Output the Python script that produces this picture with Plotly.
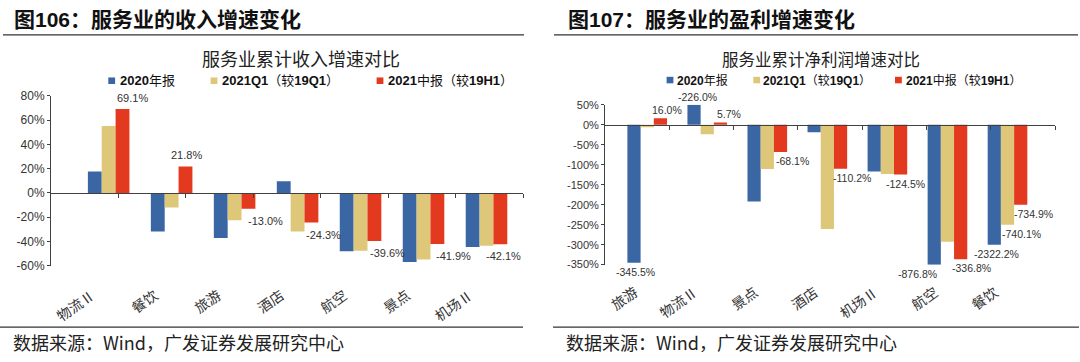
import plotly.graph_objects as go

W, H = 1080, 362

# ---------------- data ----------------
left_categories = ["物流Ⅱ", "餐饮", "旅游", "酒店", "航空", "景点", "机场Ⅱ"]
left_2020 = [17.7, -31.7, -37.0, 9.7, -48.0, -56.8, -44.4]
left_2021q1 = [55.0, -11.9, -22.5, -31.7, -47.5, -54.7, -43.4]
left_2021h1 = [69.1, 21.8, -13.0, -24.3, -39.6, -41.9, -42.1]
left_h1_labels = ["69.1%", "21.8%", "-13.0%", "-24.3%", "-39.6%", "-41.9%", "-42.1%"]

right_categories = ["旅游", "物流Ⅱ", "景点", "酒店", "机场Ⅱ", "航空", "餐饮"]
right_2020 = [-345.5, 50.0, -192.0, -19.0, -117.0, -350.0, -300.0]
right_2021q1 = [-6.0, -24.0, -111.0, -261.0, -123.0, -293.0, -250.0]
right_2021h1 = [16.0, 5.7, -68.1, -110.2, -124.5, -336.8, -200.0]
right_2020_labels = ["-345.5%", "-226.0%", "", "", "", "-876.8%", "-2322.2%"]
right_q1_labels = ["", "", "", "", "", "", "-740.1%"]
right_h1_labels = ["16.0%", "5.7%", "-68.1%", "-110.2%", "-124.5%", "-336.8%", "-734.9%"]

series_names = ["2020年报", "2021Q1（较19Q1）", "2021中报（较19H1）"]
legend_html = ["<b>2020</b>年报", "<b>2021Q1</b>（较<b>19Q1</b>）", "<b>2021</b>中报（较<b>19H1</b>）"]

left_ticks = [-60, -40, -20, 0, 20, 40, 60, 80]
left_ticktext = ["-60%", "-40%", "-20%", "0%", "20%", "40%", "60%", "80%"]
right_ticks = [-350, -300, -250, -200, -150, -100, -50, 0, 50]
right_ticktext = ["-350%", "-300%", "-250%", "-200%", "-150%", "-100%", "-50%", "0%", "50%"]

# ---------------- style ----------------
BLUE, YELLOW, RED = "#3B66A4", "#DEC779", "#E3391F"
COLORS = [BLUE, YELLOW, RED]
AX = "#404040"
LAT = "Liberation Sans, Arial, Noto Sans CJK SC"
CJK = "Noto Sans CJK SC, Liberation Sans"

# label pixel offsets from category centre (x)
left_label_dx = [24, 15, 31, 26, 27, 30, 17]
right_2020_dx = [-11.5, -9.6, 0, 0, 0, -29.5, -11.2]
right_q1_dx = [0, 0, 0, 0, 0, 0, 13.7]
right_h1_dx = [19.4, 21.7, 24.9, 25.1, 18.5, 24.5, 26]


def px(x):
    return x / W


def py(y):
    return 1 - y / H


L_X = [px(51), px(523)]
L_Y = [py(269.3), py(92.3)]
R_X = [px(605), px(1055)]
R_Y = [py(268.0), py(101.7)]

fig = go.Figure()

for vals, name, col in zip([left_2020, left_2021q1, left_2021h1], series_names, COLORS):
    fig.add_trace(go.Bar(x=left_categories, y=vals, name=name, marker_color=col,
                         marker_line_width=0, xaxis="x", yaxis="y", showlegend=False))
for vals, name, col in zip([right_2020, right_2021q1, right_2021h1], series_names, COLORS):
    fig.add_trace(go.Bar(x=right_categories, y=vals, name=name, marker_color=col,
                         marker_line_width=0, xaxis="x2", yaxis="y2", showlegend=False))
# helper traces for zero-line category axes
fig.add_trace(go.Scatter(x=[None], y=[None], xaxis="x3", yaxis="y", showlegend=False, hoverinfo="skip"))
fig.add_trace(go.Scatter(x=[None], y=[None], xaxis="x4", yaxis="y2", showlegend=False, hoverinfo="skip"))


def zero_pos(dom, rng):
    return dom[0] + (dom[1] - dom[0]) * (0 - rng[0]) / (rng[1] - rng[0])


LR = [-60, 80]
RR = [-350, 50]

yax_common = dict(showline=True, linecolor=AX, linewidth=1, ticks="outside", ticklen=3,
                  tickcolor=AX, showgrid=False, zeroline=False)
xcat_common = dict(type="category", showline=False, ticks="", showgrid=False, zeroline=False,
                   showticklabels=False)
xzero_common = dict(showline=True, linecolor=AX, linewidth=1, ticks="outside", ticklen=4,
                    tickcolor=AX, showticklabels=False, showgrid=False, zeroline=False,
                    range=[-0.5, 6.5], tickvals=[0.5, 1.5, 2.5, 3.5, 4.5, 5.5, 6.5],
                    anchor="free")

fig.update_layout(
    width=W, height=H,
    margin=dict(l=0, r=0, t=0, b=0),
    paper_bgcolor="white", plot_bgcolor="white",
    barmode="group", bargap=0.34, bargroupgap=0,
    showlegend=False,
    xaxis=dict(domain=L_X, anchor="y", **xcat_common),
    yaxis=dict(domain=L_Y, anchor="x", range=LR, tickvals=left_ticks, ticktext=left_ticktext,
               tickfont=dict(family=LAT, size=12, color="#333333"), **yax_common),
    xaxis2=dict(domain=R_X, anchor="y2", **xcat_common),
    yaxis2=dict(domain=R_Y, anchor="x2", range=RR, tickvals=right_ticks, ticktext=right_ticktext,
                tickfont=dict(family=LAT, size=11, color="#333333"), **yax_common),
    xaxis3=dict(domain=L_X, overlaying="x", position=zero_pos(L_Y, LR), **xzero_common),
    xaxis4=dict(domain=R_X, overlaying="x2", position=zero_pos(R_Y, RR), **xzero_common),
)

ann = []
# headers
ann.append(dict(text="<b>图106：服务业的收入增速变化</b>", x=px(12), y=py(13), xref="paper", yref="paper",
                xanchor="left", yanchor="middle", showarrow=False,
                font=dict(family=LAT, size=21, color="#111111")))
ann.append(dict(text="<b>图107：服务业的盈利增速变化</b>", x=px(566), y=py(13), xref="paper", yref="paper",
                xanchor="left", yanchor="middle", showarrow=False,
                font=dict(family=LAT, size=21, color="#111111")))
# chart titles
ann.append(dict(text="服务业累计收入增速对比", x=px(301), y=py(53), xref="paper", yref="paper",
                xanchor="center", yanchor="middle", showarrow=False,
                font=dict(family=CJK, size=18, color="#222222")))
ann.append(dict(text="服务业累计净利润增速对比", x=px(821), y=py(54), xref="paper", yref="paper",
                xanchor="center", yanchor="middle", showarrow=False,
                font=dict(family=CJK, size=16.5, color="#222222")))
# sources
for x0 in (12, 565):
    ann.append(dict(text="数据来源：Wind，广发证券发展研究中心", x=px(x0), y=py(348), xref="paper", yref="paper",
                    xanchor="left", yanchor="middle", showarrow=False, borderpad=0,
                    font=dict(family=CJK, size=18, color="#222222")))

# rotated category labels (top-right corner just under each category centre)
for cats, xr, ytop, dx in [(left_categories, "x", 287, -9), (right_categories, "x2", 284, -5)]:
    for c in cats:
        ann.append(dict(text=c, x=c, xref=xr, y=py(ytop), yref="paper", showarrow=False,
                        xanchor="right", yanchor="top", xshift=dx, textangle=-35, borderpad=0,
                        font=dict(family=CJK, size=14, color="#333333")))

shapes = []
# legends (swatch + text)
legend_sets = [
    (76.7, [111.7, 214.0, 380.0], [118, 220, 386], 13),
    (76.0, [670.0, 756.7, 898.4], [675, 761, 904], 12),
]
for ly, mx, tx, fs in legend_sets:
    for i in range(3):
        shapes.append(dict(type="rect", xref="paper", yref="paper",
                           x0=px(mx[i] - 3.4), x1=px(mx[i] + 3.4),
                           y0=py(ly + 3.4), y1=py(ly - 3.4),
                           fillcolor=COLORS[i], line=dict(width=0)))
        ann.append(dict(text=legend_html[i], x=px(tx[i]), y=py(ly), xref="paper", yref="paper",
                        xanchor="left", yanchor="middle", showarrow=False,
                        font=dict(family=LAT, size=fs, color="#111111")))

# rules
for (x0, x1, y) in [(3, 524, 29), (554, 1078, 29), (0, 523, 333), (553, 1079, 333)]:
    shapes.append(dict(type="line", xref="paper", yref="paper", x0=px(x0), x1=px(x1),
                       y0=py(y), y1=py(y), line=dict(color="#333333", width=1.3)))

# data labels, left
for cat, v, t, dx in zip(left_categories, left_2021h1, left_h1_labels, left_label_dx):
    ann.append(dict(text=t, x=cat, y=v, xref="x", yref="y", showarrow=False,
                    xanchor="center", yanchor="middle", xshift=dx, yshift=11 if v >= 0 else -12,
                    font=dict(family=LAT, size=11, color="#333333")))
# data labels, right
for vals, labels, dxs in [(right_2020, right_2020_labels, right_2020_dx),
                          (right_2021q1, right_q1_labels, right_q1_dx),
                          (right_2021h1, right_h1_labels, right_h1_dx)]:
    for cat, v, t, dx in zip(right_categories, vals, labels, dxs):
        if not t:
            continue
        ann.append(dict(text=t, x=cat, y=v, xref="x2", yref="y2", showarrow=False,
                        xanchor="center", yanchor="middle", xshift=dx,
                        yshift=8 if v >= 0 else -9,
                        font=dict(family=LAT, size=10.5, color="#333333")))

fig.update_layout(annotations=ann, shapes=shapes)
fig.write_html("out.html", config={"staticPlot": True, "displayModeBar": False},
               post_script="document.body.style.margin='0';")
